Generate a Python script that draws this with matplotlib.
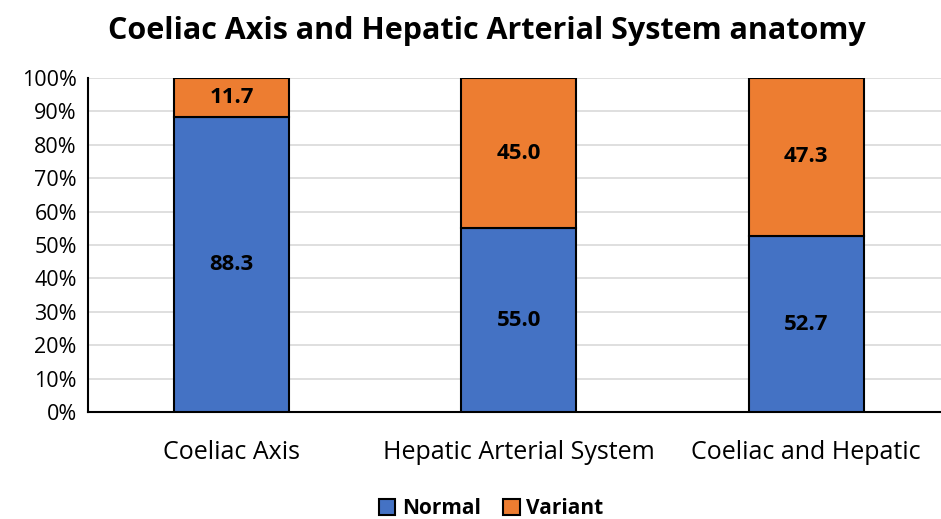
import numpy as np
import matplotlib.pyplot as plt
from matplotlib.ticker import PercentFormatter

categories = ['Coeliac Axis', 'Hepatic Arterial System', 'Coeliac and Hepatic']
normal = [88.3, 55.0, 52.7]
variant = [11.7, 45.0, 47.3]

plt.rcParams['font.family'] = ['Open Sans', 'DejaVu Sans']

fig = plt.figure(figsize=(9.41, 5.19), dpi=100)
ax = fig.add_axes([0.0935, 0.206, 0.916, 0.644])

x = np.arange(len(categories))
b1 = ax.bar(x, normal, width=0.4, color='#4472C4', edgecolor='black', linewidth=1.5, label='Normal', zorder=3)
b2 = ax.bar(x, variant, width=0.4, bottom=normal, color='#ED7D31', edgecolor='black', linewidth=1.5, label='Variant', zorder=3)

for i in range(len(categories)):
    ax.text(x[i], normal[i] / 2, f'{normal[i]:.1f}', ha='center', va='center', fontsize=16, fontweight='bold', zorder=4)
    ax.text(x[i], normal[i] + variant[i] / 2, f'{variant[i]:.1f}', ha='center', va='center', fontsize=16, fontweight='bold', zorder=4)

ax.set_xlim(-0.5, 2.5)
ax.set_ylim(0, 100)
ax.set_yticks(np.arange(0, 101, 10))
ax.yaxis.set_major_formatter(PercentFormatter(decimals=0))
ax.set_xticks(x)
ax.set_xticklabels(categories, fontsize=18)
ax.tick_params(axis='y', labelsize=15.5, length=0, pad=8)
ax.tick_params(axis='x', length=0, pad=20)
ax.grid(axis='y', color='#d9d9d9', linewidth=1.2, zorder=0)
ax.set_axisbelow(True)
for s in ['top', 'right']:
    ax.spines[s].set_visible(False)
ax.spines['left'].set_linewidth(1.5)
ax.spines['bottom'].set_linewidth(1.5)

fig.suptitle('Coeliac Axis and Hepatic Arterial System anatomy', fontsize=22, fontweight='bold', x=0.517, y=0.97)

fig.legend(handles=[b1, b2], loc='center', bbox_to_anchor=(0.522, 0.02), ncol=2, frameon=False,
           prop={'size': 15, 'weight': 'bold'}, handlelength=0.8, handleheight=0.8, handletextpad=0.3,
           columnspacing=1.1, borderpad=0.1)

fig.savefig('out.png', dpi=100)
